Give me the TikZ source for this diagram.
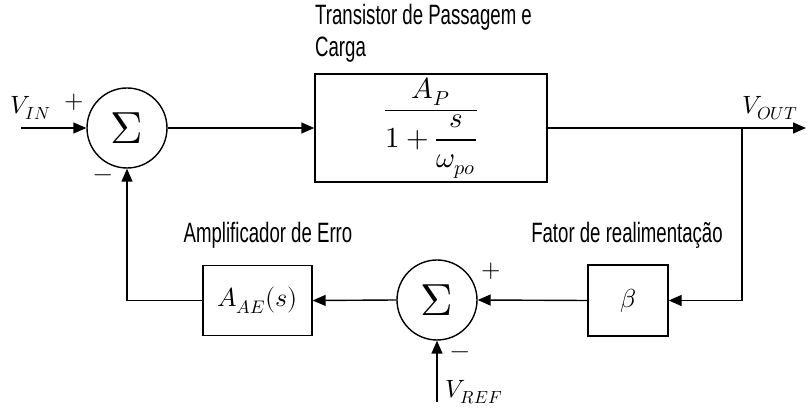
\documentclass[tikz,border=0pt]{standalone}
\usepackage{amsmath}
\usepackage{fontspec}
\usepackage{unicode-math}
\setmathfont{Latin Modern Math}
\newfontfamily\agency{Liberation Sans}[FakeStretch=0.665]
\usetikzlibrary{arrows.meta}
\tikzset{
  conn/.style={line width=1.4pt, -{Triangle[length=13pt,width=11pt]}},
  blk/.style={draw, line width=1.4pt, inner sep=0pt, font=\fontsize{26}{30}\selectfont},
  sumnode/.style={draw, circle, line width=1.4pt, minimum size=80pt, inner sep=0pt, font=\fontsize{45}{45}\selectfont},
  mlabel/.style={inner sep=0pt, font=\fontsize{25}{30}\selectfont},
  tlabel/.style={inner sep=0pt, font=\agency\fontsize{28}{32}\selectfont}
}
\begin{document}
\begin{tikzpicture}[x=1pt,y=-1pt]
\useasboundingbox (0,0) rectangle (807,414);
% blocks
\node[sumnode] (s1) at (127,128) {$\Sigma$};
\node[blk, minimum width=232pt, minimum height=108pt, font=\fontsize{29}{33}\selectfont] (P) at (431,128) {$\dfrac{A_P}{1+\dfrac{s}{\omega_{po}}}$};
\node[blk, minimum width=80pt, minimum height=71pt] (B) at (628,300.5) {$\beta$};
\node[sumnode] (s2) at (437,300) {$\Sigma$};
\node[blk, minimum width=109pt, minimum height=70pt] (AE) at (257.5,300.5) {$A_{AE}(s)$};
% coordinates
\coordinate (in) at (21,128);
\coordinate (out) at (806,128);
\coordinate (br) at (742,128);
\coordinate (ref) at (437,402);
% connectors
\draw[conn] (in) -- (s1.west);
\draw[conn] (s1.east) -- (P.west);
\draw[conn] (P.east) -- (out);
\draw[conn] (br) |- (B.east);
\draw[conn] (B.west) -- (s2.east);
\draw[conn] (s2.west) -- (AE.east);
\draw[conn] (AE.west) -| (s1.south);
\draw[conn] (ref) -- (s2.south);
% math labels
\node[mlabel] (vin) at (31,108) {$V_{IN}$};
\node[mlabel] (p1) at (74,102) {$+$};
\node[mlabel] (m1) at (103,178) {$-$};
\node[mlabel] (vout) at (770,108) {$V_{OUT}$};
\node[mlabel] (p2) at (491,271) {$+$};
\node[mlabel] (m2) at (460,355) {$-$};
\node[mlabel] (vref) at (474,392) {$V_{REF}$};
% text labels
\node[tlabel, anchor=base west] (t1) at (315,25) {Transistor de Passagem e};
\node[tlabel, anchor=base west] (t2) at (315,57) {Carga};
\node[tlabel] (t3) at (268,235) {Amplificador de Erro};
\node[tlabel] (t4) at (627,235) {Fator de realimentação};
\end{tikzpicture}
\end{document}
